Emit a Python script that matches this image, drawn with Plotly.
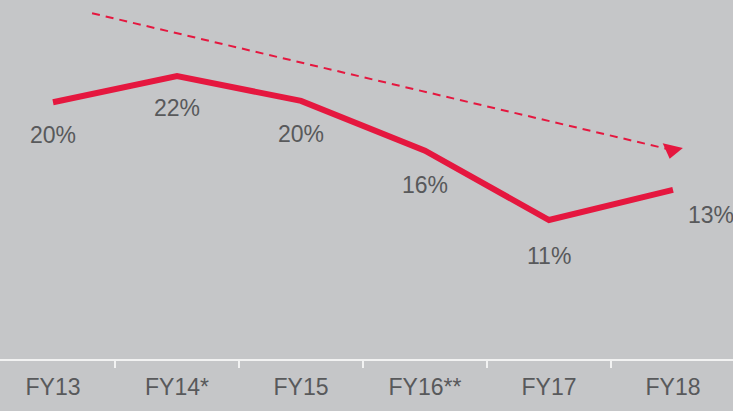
import plotly.graph_objects as go

categories = ["FY13", "FY14*", "FY15", "FY16**", "FY17", "FY18"]
values = [20.0, 22.0, 20.1, 16.3, 11.0, 13.3]
label_xshift = [0, 0, 0, 0, 0, 38]
label_yshift = [-33, -32, -33, -34, -36, -25]

trend_x = [0.315, 4.99]
trend_y = [26.8, 16.35]

RED = "#e5173f"
BG = "#c5c6c8"
TXT = "#58595b"
FONT = "Liberation Sans, Arial, sans-serif"

xr = [-53 / 124, (733 - 53) / 124]
yr = [0.38, 27.81]

fig = go.Figure()
fig.add_trace(go.Scatter(x=categories, y=values, mode="lines",
                         line=dict(color=RED, width=6), hoverinfo="skip"))
fig.add_trace(go.Scatter(x=trend_x, y=trend_y, xaxis="x2", mode="lines+markers",
                         line=dict(color=RED, width=2, dash="8px,6px"),
                         marker=dict(symbol="triangle-right", size=[0, 18], color=RED,
                                     opacity=1, angleref="previous", line=dict(width=0)),
                         hoverinfo="skip"))

for c, v, dx, dy in zip(categories, values, label_xshift, label_yshift):
    fig.add_annotation(x=c, y=v, text=f"{v:.0f}%", showarrow=False,
                       xshift=dx, yshift=dy, font=dict(size=23, color=TXT, family=FONT))

fig.update_layout(
    width=733, height=411,
    margin=dict(l=0, r=0, t=0, b=52),
    paper_bgcolor=BG, plot_bgcolor=BG,
    showlegend=False,
    xaxis=dict(type="category", range=xr, showgrid=False, zeroline=False,
               showline=True, linecolor="#f2f2f2", linewidth=2,
               ticks="outside", tickson="boundaries", ticklen=7, tickwidth=2,
               tickcolor="#f2f2f2", ticklabelstandoff=6,
               tickfont=dict(size=23, color=TXT, family=FONT)),
    xaxis2=dict(overlaying="x", range=xr, visible=False),
    yaxis=dict(range=yr, visible=False, showgrid=False, zeroline=False),
)

fig.write_html("out.html", config={"displayModeBar": False},
               post_script="document.body.style.margin='0';document.body.style.overflow='hidden';")
